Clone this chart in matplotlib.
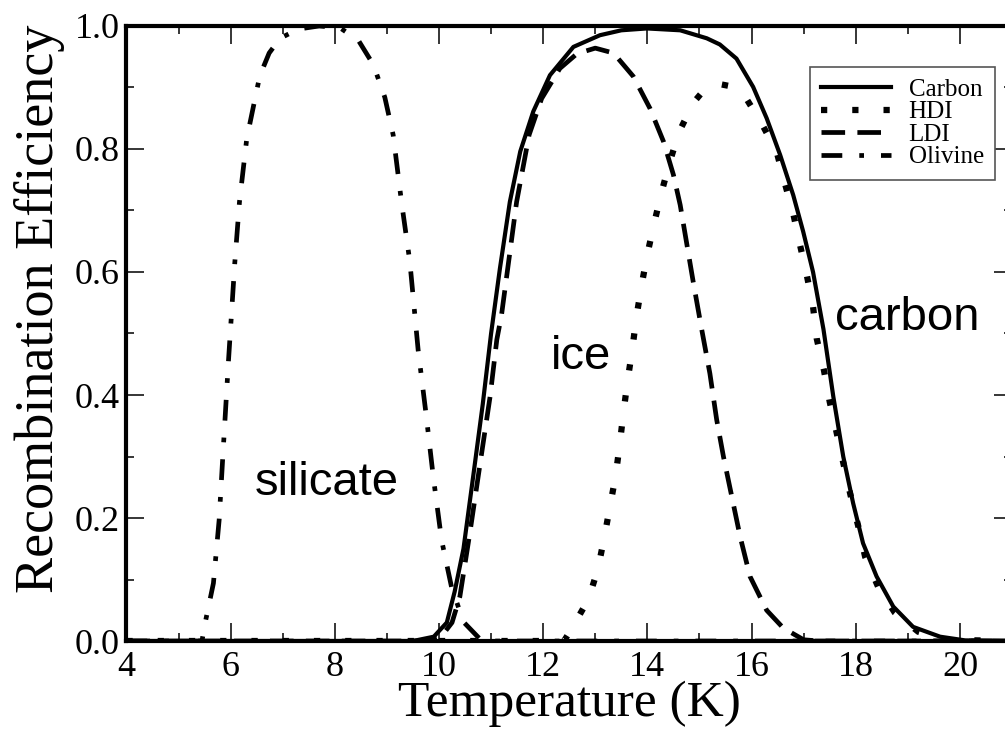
import matplotlib
matplotlib.use("Agg")
import matplotlib.pyplot as plt
from matplotlib.ticker import MultipleLocator

# values (temperature in K, efficiency 0..1)
carbon_T = [4, 9.5, 9.9, 10.15, 10.3, 10.47, 10.66, 10.84, 11.0, 11.17, 11.36, 11.56,
            11.81, 12.13, 12.58, 13.09, 13.5, 13.99, 14.63, 15.14, 15.39, 15.71, 16.03,
            16.29, 16.55, 16.8, 16.99, 17.18, 17.38, 17.57, 17.76, 17.95, 18.14, 18.4,
            18.72, 19.1, 19.62, 20.1, 21]
carbon_E = [0, 0, 0.007, 0.03, 0.08, 0.15, 0.27, 0.385, 0.5, 0.606, 0.714, 0.796,
            0.861, 0.92, 0.966, 0.985, 0.993, 0.996, 0.993, 0.98, 0.97, 0.947, 0.901,
            0.85, 0.79, 0.725, 0.666, 0.60, 0.507, 0.397, 0.30, 0.224, 0.159, 0.105,
            0.056, 0.023, 0.007, 0.001, 0]

hdi_T = [4, 12.4, 12.56, 12.87, 13.05, 13.17, 13.28, 13.39, 13.47, 13.54, 13.62, 13.71,
         13.79, 13.89, 14.0, 14.13, 14.27, 14.43, 14.61, 14.89, 15.1, 15.36, 15.6, 15.87,
         16.19, 16.48, 16.64, 16.8, 16.93, 17.06, 17.18, 17.25, 17.39, 17.5, 17.63,
         17.77, 17.9, 18.05, 18.18, 18.43, 18.75, 19.2, 19.7, 21]
hdi_E = [0, 0, 0.022, 0.068, 0.117, 0.167, 0.218, 0.268, 0.32, 0.371, 0.423, 0.474,
         0.527, 0.579, 0.629, 0.679, 0.729, 0.779, 0.828, 0.876, 0.897, 0.906, 0.902, 0.886,
         0.842, 0.796, 0.744, 0.695, 0.644, 0.595, 0.544, 0.492, 0.44, 0.389, 0.34,
         0.286, 0.237, 0.186, 0.137, 0.088, 0.046, 0.015, 0.002, 0]

ldi_T = [4, 9.7, 10.05, 10.25, 10.4, 10.6, 10.79, 10.98, 11.11, 11.2, 11.49, 11.73,
         11.97, 12.32, 12.65, 13.0, 13.35, 13.73, 14.05, 14.31, 14.5, 14.63, 14.75,
         14.88, 15.04, 15.2, 15.33, 15.46, 15.62, 15.78, 15.97, 16.29, 16.61, 17.0,
         17.3, 21]
ldi_E = [0, 0, 0.008, 0.03, 0.072, 0.18, 0.289, 0.397, 0.49, 0.53, 0.714, 0.823,
         0.882, 0.931, 0.955, 0.964, 0.956, 0.918, 0.866, 0.812, 0.758, 0.709, 0.649,
         0.584, 0.508, 0.435, 0.36, 0.30, 0.235, 0.17, 0.105, 0.05, 0.021, 0.002,
         0, 0]

olivine_T = [4, 5.45, 5.51, 5.67, 5.78, 5.85, 5.96, 6.08, 6.17, 6.31, 6.56, 6.74, 6.95,
             7.3, 7.7, 8.1, 8.45, 8.74, 8.96, 9.12, 9.28, 9.44, 9.6, 9.75, 9.89, 10.05,
             10.24, 10.47, 10.8, 11.0, 21]
olivine_E = [0, 0, 0.029, 0.094, 0.197, 0.30, 0.457, 0.615, 0.714, 0.817, 0.919, 0.956,
             0.98, 0.995, 1.0, 0.997, 0.977, 0.937, 0.884, 0.823, 0.714, 0.617, 0.473,
             0.37, 0.267, 0.164, 0.088, 0.031, 0.002, 0, 0]

labels = ["Carbon", "HDI", "LDI", "Olivine"]
x_ticks = [4, 6, 8, 10, 12, 14, 16, 18, 20]
y_ticks = [0.0, 0.2, 0.4, 0.6, 0.8, 1.0]

serif = "Liberation Serif"
sans = "Liberation Sans"

fig = plt.figure(figsize=(10.05, 7.32), dpi=100)
ax = fig.add_axes([0.1258, 0.1243, 0.8812, 0.8402])

ax.plot(carbon_T, carbon_E, color="black", lw=3, label=labels[0])
ax.plot(hdi_T, hdi_E, color="black", lw=4.5, ls=(0, (1, 4)),
        dash_capstyle="butt", label=labels[1])
ax.plot(ldi_T, ldi_E, color="black", lw=3.4, ls=(0, (5, 2.6)), label=labels[2])
ax.plot(olivine_T, olivine_E, color="black", lw=3.4, ls=(0, (4.4, 3.6, 1, 3.6)),
        label=labels[3])

ax.set_xlim(4, 21)
ax.set_ylim(0, 1)
ax.set_xticks(x_ticks)
ax.set_yticks(y_ticks)
ax.set_xticklabels([str(v) for v in x_ticks], fontfamily=serif, fontsize=26)
ax.set_yticklabels(["%.1f" % v for v in y_ticks], fontfamily=serif, fontsize=26)
ax.xaxis.set_minor_locator(MultipleLocator(1))
ax.yaxis.set_minor_locator(MultipleLocator(0.1))
ax.tick_params(which="both", direction="in", top=True, right=True, width=1.1)
ax.tick_params(which="major", length=13)
ax.tick_params(which="minor", length=6)
ax.tick_params(axis="x", pad=7.5)
ax.tick_params(axis="y", pad=5)
for s in ax.spines.values():
    s.set_linewidth(3)

ax.set_xlabel("Temperature (K)", fontfamily=serif, fontsize=37)
ax.set_ylabel("Recombination Efficiency", fontfamily=serif, fontsize=39)
ax.xaxis.set_label_coords(0.5, -0.064)
ax.yaxis.set_label_coords(-0.069, 0.541)

ax.text(7.84, 0.237, "silicate", family=sans, fontsize=34, ha="center", va="baseline")
ax.text(12.73, 0.442, "ice", family=sans, fontsize=34, ha="center", va="baseline")
ax.text(18.99, 0.506, "carbon", family=sans, fontsize=34, ha="center", va="baseline")

leg = ax.legend(loc="upper right", bbox_to_anchor=(995 / 1005, 1 - 67 / 732),
                bbox_transform=fig.transFigure, prop={"family": serif, "size": 18},
                fancybox=False, framealpha=1, edgecolor="#555555",
                handlelength=2.8, handletextpad=0.7, labelspacing=0.0,
                borderpad=0.45, borderaxespad=0)
leg.get_frame().set_linewidth(1.2)

fig.savefig("out.png", dpi=100)
